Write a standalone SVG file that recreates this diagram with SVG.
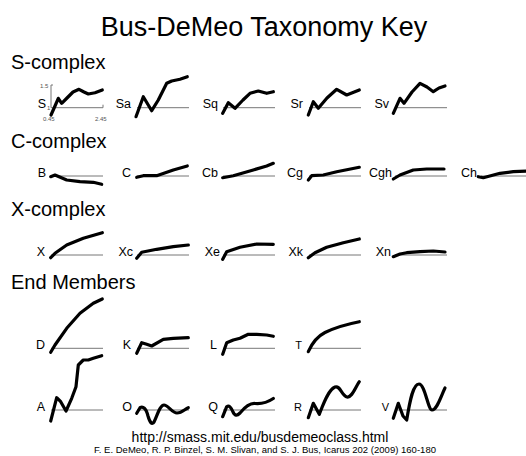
<svg xmlns="http://www.w3.org/2000/svg" width="526" height="456" viewBox="0 0 526 456">
<style>
text{font-family:"Liberation Sans",Arial,sans-serif;fill:#000}
.title{font-size:27px;text-anchor:middle}
.head{font-size:20px}
.lbl{font-size:12.5px;text-anchor:end}
.sm{font-size:11px;text-anchor:end}
.ax{font-size:6px;fill:#555}
.base{stroke:#777;stroke-width:1;fill:none}
.spec{stroke:#000;stroke-width:3.2;fill:none;stroke-linejoin:round;stroke-linecap:round}
</style>
<rect width="526" height="456" fill="#fff"/>
<text class="title" x="264" y="36">Bus-DeMeo Taxonomy Key</text>
<text class="head" x="11" y="69">S-complex</text>
<text class="head" x="11" y="148">C-complex</text>
<text class="head" x="11" y="216">X-complex</text>
<text class="head" x="11" y="289">End Members</text>

<!-- S-complex -->
<g id="S">
<path class="base" d="M51,85V107.7H103M51,85h2M103,107.7v-3"/>
<text class="ax" x="40" y="87.5">1.5</text>
<text class="ax" x="47" y="110">1</text>
<text class="ax" x="43" y="121">0.45</text>
<text class="ax" x="95" y="121">2.45</text>
<text class="lbl" x="46" y="108">S</text>
<polyline class="spec" points="51,115 55,106 58.3,98.3 61.7,103.3 67,98 73,92 79,89.3 84,92 88.3,94 95,92.7 102.3,90"/>
</g>
<g id="Sa">
<path class="base" d="M137,107.7H189"/>
<text class="lbl" x="131" y="108">Sa</text>
<polyline class="spec" points="136,116.7 143.3,96.7 151.7,110.7 158.3,100 166.7,83.3 171.7,81 180,79.3 187.3,76.7"/>
</g>
<g id="Sq">
<path class="base" d="M223,107.7H275"/>
<text class="lbl" x="218" y="108">Sq</text>
<polyline class="spec" points="222.7,113.3 228.3,102.7 235,108.3 243,100 250,93.3 258.3,91 266.7,93.3 273.3,91.7"/>
</g>
<g id="Sr">
<path class="base" d="M309,107.7H361"/>
<text class="lbl" x="303" y="108">Sr</text>
<polyline class="spec" points="308.3,115 313.3,101.7 318.3,108.3 327,98 336.7,89.3 346.7,95 359.3,90"/>
</g>
<g id="Sv">
<path class="base" d="M395,107.7H447"/>
<text class="lbl" x="389" y="108">Sv</text>
<polyline class="spec" points="393.3,113.3 400,98.3 404,103.3 412,92 420,83.3 427,87 433.3,91.7 439,88 445,86"/>
</g>

<!-- C-complex -->
<g id="B">
<path class="base" d="M51,176H103"/>
<text class="lbl" x="46" y="176.5">B</text>
<polyline class="spec" points="50.7,176.7 55,175 66.7,180 80,181.7 93.3,182.3 101.7,184.3"/>
</g>
<g id="C">
<path class="base" d="M137,176H189"/>
<text class="lbl" x="131" y="176.5">C</text>
<polyline class="spec" points="136.7,177.3 143.3,175.7 156.7,175.7 173.3,170 187.3,166"/>
</g>
<g id="Cb">
<path class="base" d="M223,176H275"/>
<text class="lbl" x="218" y="176.5">Cb</text>
<polyline class="spec" points="222.7,177.7 233.3,175.7 253.3,170 266.7,166 273.3,163.3"/>
</g>
<g id="Cg">
<path class="base" d="M309,176H361"/>
<text class="lbl" x="303" y="176.5">Cg</text>
<polyline class="spec" points="308.3,180 311.7,175.7 323.3,175 336.7,171.7 359.3,167.3"/>
</g>
<g id="Cgh">
<path class="base" d="M395,176H447"/>
<text class="lbl" x="392" y="176.5">Cgh</text>
<polyline class="spec" points="393.3,179 400,175 413.3,170 426.7,169 444,169"/>
</g>
<g id="Ch">
<path class="base" d="M481,176H533"/>
<text class="lbl" x="477" y="176.5">Ch</text>
<polyline class="spec" points="478.3,176.7 483.3,177.7 500,173.3 513.3,171.7 526.7,171 532,170.7"/>
</g>

<!-- X-complex -->
<g id="X">
<path class="base" d="M51,255H103"/>
<text class="lbl" x="45" y="255.5">X</text>
<polyline class="spec" points="50.7,257.7 55,253.3 66.7,245 83.3,238.3 102.3,232.7"/>
</g>
<g id="Xc">
<path class="base" d="M137,255H189"/>
<text class="lbl" x="133" y="255.5">Xc</text>
<polyline class="spec" points="136.7,258.3 141.7,252.3 156.7,249.3 173.3,246.7 188.3,245"/>
</g>
<g id="Xe">
<path class="base" d="M223,255H275"/>
<text class="lbl" x="220" y="255.5">Xe</text>
<polyline class="spec" points="222.7,259.3 226.7,251.7 240,247.3 256.7,244 273.3,244.3"/>
</g>
<g id="Xk">
<path class="base" d="M309,255H361"/>
<text class="lbl" x="303" y="255.5">Xk</text>
<polyline class="spec" points="308.3,257.7 315,252.7 326.7,247.3 343.3,242.7 359.3,239"/>
</g>
<g id="Xn">
<path class="base" d="M395,255H447"/>
<text class="lbl" x="391" y="255.5">Xn</text>
<polyline class="spec" points="393.3,256.7 400,254 406.7,252.7 420,251.7 433.3,251 445,252"/>
</g>

<!-- End Members -->
<g id="D">
<path class="base" d="M51,348.3H103"/>
<text class="lbl" x="45" y="349">D</text>
<polyline class="spec" points="50.7,352.3 55,345 66.7,328.3 80,313.3 93.3,303.3 102.3,299"/>
</g>
<g id="K">
<path class="base" d="M137,348.3H189"/>
<text class="lbl" x="131" y="349">K</text>
<polyline class="spec" points="136.7,353.3 141.7,342.7 146.7,344.3 151.7,346 163.3,339.3 173.3,338.3 188.3,337.7"/>
</g>
<g id="L">
<path class="base" d="M223,348.3H275"/>
<text class="lbl" x="217" y="349">L</text>
<polyline class="spec" points="222.7,354.3 226.7,342.7 233.3,340 240,338.3 248.3,334.3 256.7,334.3 266.7,335 273.3,336.3"/>
</g>
<g id="T">
<path class="base" d="M309,348.3H361"/>
<text class="sm" x="302" y="349">T</text>
<path class="spec" d="M308.3,351.7C313,341 318,336 325,332.5S345,324.5 359.3,321.7"/>
</g>
<g id="A">
<path class="base" d="M51,410H103"/>
<text class="lbl" x="45" y="410.5">A</text>
<polyline class="spec" points="50.7,421 56.7,397.7 60.7,401.7 66,411 71.7,398.3 76,386.7 78.3,365 83.3,360 88.3,360 93.3,358.3 101.7,355.7"/>
</g>
<g id="O">
<path class="base" d="M137,410H189"/>
<text class="lbl" x="132" y="410.5">O</text>
<path class="spec" d="M136.7,413.3L140,407.7C143,406 146,408 148,416C150,423 152,425 154,422C157,416 160,405 164,405C168,405 172,413 177,413C182,413 185,409 188.3,407.7"/>
</g>
<g id="Q">
<path class="base" d="M223,410H275"/>
<text class="lbl" x="218" y="410.5">Q</text>
<path class="spec" d="M222.7,416.7L226.7,406.7C229,405 231,407 233,412C235,416 237,416 240,413C245,407 250,403 255,403.5C260,404 265,404 273.3,398.5"/>
</g>
<g id="R">
<path class="base" d="M309,410H361"/>
<text class="sm" x="302" y="410.5">R</text>
<path class="spec" d="M308.3,417.7L313.3,403.3L319.3,414.3C323,405 328,390 335,387C340,385 342,396 347,397C352,398 355,388 359.3,381.7"/>
</g>
<g id="V">
<path class="base" d="M395,410H447"/>
<text class="sm" x="389" y="410.5">V</text>
<path class="spec" d="M393.3,418.3L398.3,403.3L403,416L406.7,420C410,400 413,384 419,384C425,384 428,410 432,410C437,410 441,396 445,388"/>
</g>

<text x="260" y="442" font-size="14" text-anchor="middle">http://smass.mit.edu/busdemeoclass.html</text>
<text x="265" y="453" font-size="9.5" text-anchor="middle" textLength="342">F. E. DeMeo, R. P. Binzel, S. M. Slivan, and S. J. Bus, Icarus 202 (2009) 160-180</text>
</svg>
